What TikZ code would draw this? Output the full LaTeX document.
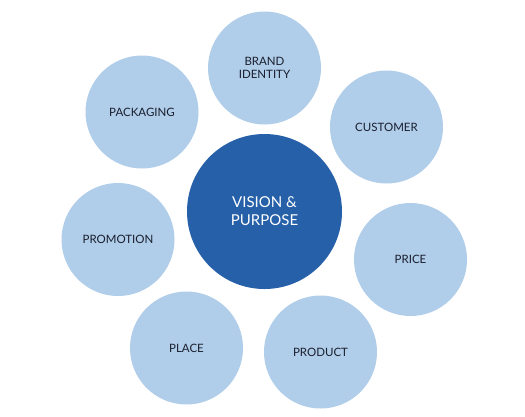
\documentclass[tikz,border=0pt]{standalone}
\usepackage{fontspec}
\setmainfont{Lato}
\begin{document}
\begin{tikzpicture}[x=1pt,y=-1pt,
  outer/.style={circle,fill=lightblue,minimum size=113pt,inner sep=0pt,align=center,
    text=textdark,font=\fontsize{11.5}{13}\selectfont},
  inner/.style={circle,fill=darkblue,minimum size=155pt,inner sep=0pt,align=center,
    text=white,font=\fontsize{15}{18}\selectfont}]
\definecolor{lightblue}{HTML}{B0CDE9}
\definecolor{darkblue}{HTML}{2560A8}
\definecolor{textdark}{HTML}{1A1F2E}
\useasboundingbox[fill=white] (0,0) rectangle (525,416);
\node[inner] (center) at (264.5,211.5) {VISION \&\\PURPOSE};
\node[outer] (brand) at (264.5,68) {BRAND\\IDENTITY};
\node[outer] (customer) at (386.5,127) {CUSTOMER};
\node[outer] (price) at (410.5,259.5) {PRICE};
\node[outer] (product) at (320.5,352) {PRODUCT};
\node[outer] (place) at (186.5,348) {PLACE};
\node[outer] (promotion) at (118,239.5) {PROMOTION};
\node[outer] (packaging) at (142,112) {PACKAGING};
\end{tikzpicture}
\end{document}
